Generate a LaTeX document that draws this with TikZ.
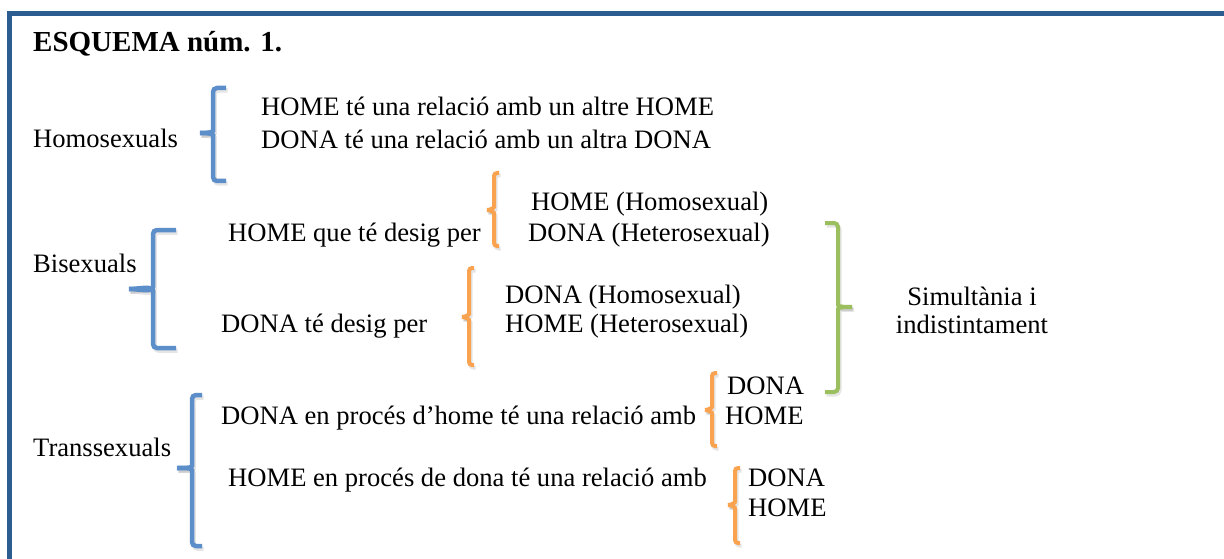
\documentclass[tikz,border=0pt]{standalone}
\usepackage{fontspec}
\setmainfont{Liberation Serif}
\usetikzlibrary{positioning}

\definecolor{framecol}{RGB}{43,93,145}
\definecolor{brkblue}{RGB}{92,142,202}
\definecolor{brkorange}{RGB}{249,162,80}
\definecolor{brkgreen}{RGB}{155,190,95}

\tikzset{
  txt/.style={anchor=base west, inner sep=0pt, font=\fontsize{26.6}{30}\selectfont},
  ctxt/.style={txt, anchor=base},
  title/.style={anchor=base west, inner sep=0pt, font=\fontsize{29}{34}\selectfont\bfseries},
  bluebrk/.style={draw=brkblue, line width=4.5pt, rounded corners=4pt},
  orangebrk/.style={draw=brkorange, line width=4pt, rounded corners=3pt},
  greenbrk/.style={draw=brkgreen, line width=4pt, rounded corners=4pt},
  shade/.style={draw=black, opacity=0.10, shift={(1.5,2.5)}}
}

% left brace: style, x, top, tip, bottom, hook, spur
\newcommand{\lbrkpath}[7]{%
  \draw[#1] (#2+#6,#3) -- (#2,#3) -- (#2,#4-6) to[out=-90,in=0] (#2-#7,#4);
  \draw[#1] (#2-#7,#4) to[out=0,in=90] (#2,#4+6) -- (#2,#5) -- (#2+#6,#5);}
\newcommand{\leftbrk}[7]{%
  \lbrkpath{#1,shade}{#2}{#3}{#4}{#5}{#6}{#7}
  \lbrkpath{#1}{#2}{#3}{#4}{#5}{#6}{#7}}
% right brace: style, x, top, tip, bottom, hook, spur
\newcommand{\rbrkpath}[7]{%
  \draw[#1] (#2-#6,#3) -- (#2,#3) -- (#2,#4-6) to[out=-90,in=180] (#2+#7,#4);
  \draw[#1] (#2+#7,#4) to[out=180,in=90] (#2,#4+6) -- (#2,#5) -- (#2-#6,#5);}
\newcommand{\rightbrk}[7]{%
  \rbrkpath{#1,shade}{#2}{#3}{#4}{#5}{#6}{#7}
  \rbrkpath{#1}{#2}{#3}{#4}{#5}{#6}{#7}}

\begin{document}
\begin{tikzpicture}[x=1pt, y=-1pt]
    \useasboundingbox (0,0) rectangle (1224,559);
    \clip (0,0) rectangle (1224,559);
    \fill[white] (0,0) rectangle (1224,559);
    \draw[framecol, line width=5pt] (9.5,13.5) rectangle (1300,620);

    \node[title] (head) at (33,52) {ESQUEMA núm. 1.};

    % homosexuals
    \node[txt] (homo) at (33,148) {Homosexuals};
    \leftbrk{bluebrk}{213}{88}{133}{181}{13}{13}
    \node[txt] (homoA) at (261,116) {HOME té una relació amb un altre HOME};
    \node[txt] (homoB) at (261,149) {DONA té una relació amb un altra DONA};

    % bisexuals
    \node[txt] (bi) at (33,272) {Bisexuals};
    \leftbrk{bluebrk}{153}{230}{289}{348}{23}{24}
    \node[txt] (biA) at (228,241) {HOME que té desig per};
    \node[txt] (biB) at (221,332) {DONA té desig per};
    \leftbrk{orangebrk}{494}{173}{210}{246}{5}{7}
    \node[txt] (biA1) at (531,210) {HOME (Homosexual)};
    \node[txt] (biA2) at (528,241) {DONA (Heterosexual)};
    \leftbrk{orangebrk}{469}{268}{317}{365}{5}{7}
    \node[txt] (biB1) at (505,303) {DONA (Homosexual)};
    \node[txt] (biB2) at (505,332) {HOME (Heterosexual)};

    % simultania
    \rightbrk{greenbrk}{838}{223}{307}{392}{13}{14}
    \node[ctxt] (simA) at (972,305) {Simultània i};
    \node[ctxt] (simB) at (972,333) {indistintament};

    % transsexuals
    \node[txt] (trans) at (33,456) {Transsexuals};
    \leftbrk{bluebrk}{192}{395}{468}{546}{10}{15}
    \node[txt] (transA) at (221,424) {DONA en procés d’home té una relació amb};
    \node[txt] (transB) at (228,486) {HOME en procés de dona té una relació amb};
    \leftbrk{orangebrk}{712}{373}{410}{446}{5}{7}
    \node[txt] (transA1) at (727,394) {DONA};
    \node[txt] (transA2) at (725,424) {HOME};
    \leftbrk{orangebrk}{735}{468}{505}{543}{5}{7}
    \node[txt] (transB1) at (748,486) {DONA};
    \node[txt] (transB2) at (748,516) {HOME};
\end{tikzpicture}
\end{document}
